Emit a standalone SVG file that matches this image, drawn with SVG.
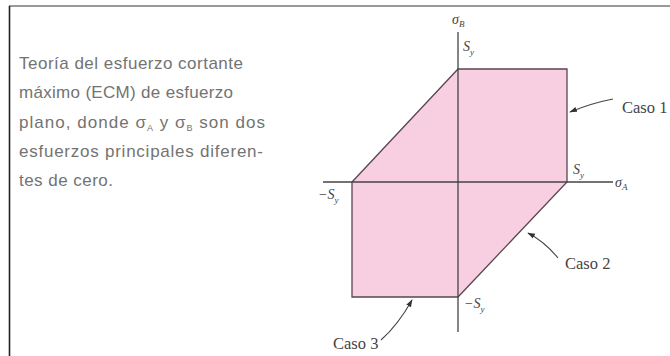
<svg xmlns="http://www.w3.org/2000/svg" width="670" height="356" viewBox="0 0 670 356">
<style>
.cap{font-family:"Liberation Sans",Arial,sans-serif;font-size:17px;fill:#737373}
.lab{font-family:"Liberation Serif","Times New Roman",serif;font-size:16.5px;fill:#444}
.sym{font-family:"Liberation Serif","Times New Roman",serif;font-style:italic;font-size:14px;fill:#444}
.sub{font-size:9px}
.ax{stroke:#444;stroke-width:1.3;fill:none}
.ld{stroke:#444;stroke-width:1.1;fill:none}
</style>
<defs>
<marker id="ah" viewBox="0 0 10 10" refX="9" refY="5" markerWidth="7" markerHeight="7" orient="auto">
<path d="M0,1.5 L10,5 L0,8.5 z" fill="#333"/>
</marker>
</defs>
<rect width="670" height="356" fill="#fff"/>
<line x1="9" y1="6" x2="670" y2="6" stroke="#777" stroke-width="1.6"/>
<line x1="9.5" y1="6" x2="9.5" y2="356" stroke="#222" stroke-width="1.6"/>
<g id="caption">
<text class="cap" x="19" y="69" textLength="224" lengthAdjust="spacing">Teoría del esfuerzo cortante</text>
<text class="cap" x="19" y="98" textLength="214" lengthAdjust="spacing">máximo (ECM) de esfuerzo</text>
<text class="cap" x="19" y="127.5" textLength="246" lengthAdjust="spacing">plano, donde σ<tspan class="sub" dy="3">A</tspan><tspan dy="-3"> y σ</tspan><tspan class="sub" dy="3">B</tspan><tspan dy="-3"> son dos</tspan></text>
<text class="cap" x="19" y="157" textLength="244" lengthAdjust="spacing">esfuerzos principales diferen-</text>
<text class="cap" x="19" y="186" textLength="94" lengthAdjust="spacing">tes de cero.</text>
</g>
<g id="region">
<polygon points="352,182 458,69 567,69 567,182 458,297 352,297" fill="#f7cfe0" stroke="#5a4650" stroke-width="1.3"/>
</g>
<g id="axes">
<line class="ax" x1="323" y1="182" x2="613" y2="182"/>
<line class="ax" x1="458" y1="32" x2="458" y2="332"/>
</g>
<g id="labels">
<text class="sym" x="452" y="24">σ<tspan class="sub" dy="3">B</tspan></text>
<text class="sym" x="463" y="51">S<tspan class="sub" dy="4">y</tspan></text>
<text class="sym" x="573" y="174">S<tspan class="sub" dy="4">y</tspan></text>
<text class="sym" x="615" y="187">σ<tspan class="sub" dy="3">A</tspan></text>
<text class="sym" x="318" y="199">−S<tspan class="sub" dy="4">y</tspan></text>
<text class="sym" x="464" y="308">−S<tspan class="sub" dy="4">y</tspan></text>
</g>
<g id="caso1">
<text class="lab" x="622" y="113">Caso 1</text>
</g>
<g id="caso2">
<text class="lab" x="565" y="269">Caso 2</text>
</g>
<g id="caso3">
<text class="lab" x="333" y="349">Caso 3</text>
</g>
<g id="connectors">
<path class="ld" d="M613,99 Q592,103 570,112" marker-end="url(#ah)"/>
<path class="ld" d="M558,258 Q545,242 528,233" marker-end="url(#ah)"/>
<path class="ld" d="M381,340 Q398,325 412,300" marker-end="url(#ah)"/>
</g>
</svg>
